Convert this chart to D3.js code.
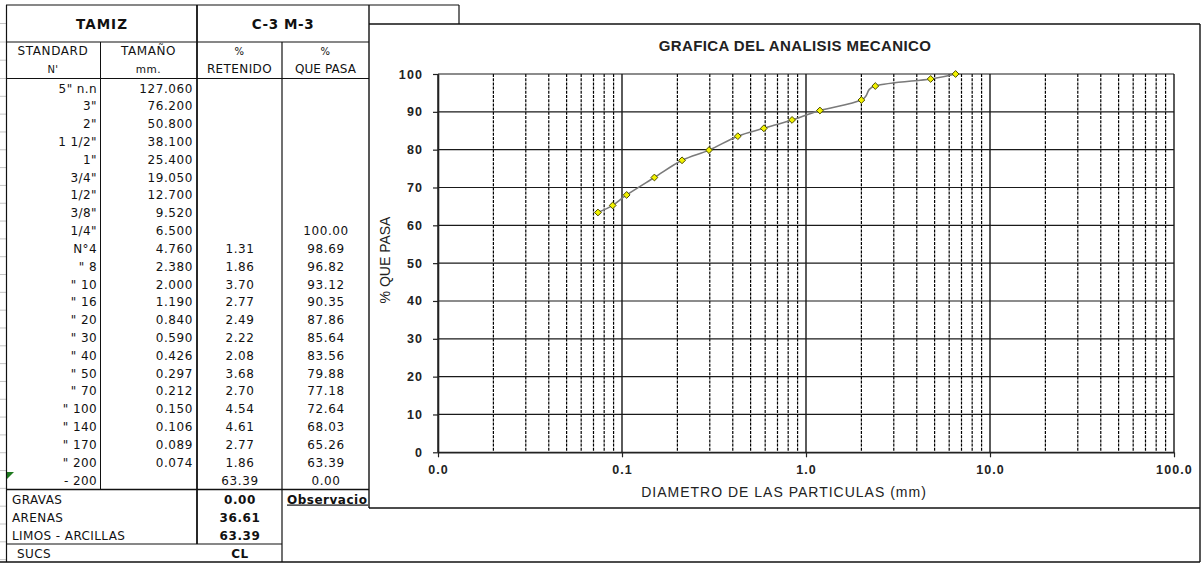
<!DOCTYPE html>
<html><head><meta charset="utf-8">
<script src="https://cdn.jsdelivr.net/npm/d3@7"></script>
<style>
html,body{margin:0;padding:0;background:#fff;}
svg{display:block;}
</style></head>
<body>
<svg id="c" width="1201" height="563"></svg>
<script>
// ---------- DATA ----------
const standard = ['5" n.n','3"','2"','1 1/2"','1"','3/4"','1/2"','3/8"','1/4"','N°4','" 8','" 10','" 16','" 20','" 30','" 40','" 50','" 70','" 100','" 140','" 170','" 200','- 200'];
const sizes = [127.060,76.200,50.800,38.100,25.400,19.050,12.700,9.520,6.500,4.760,2.380,2.000,1.190,0.840,0.590,0.426,0.297,0.212,0.150,0.106,0.089,0.074,null];
const retenido = [null,null,null,null,null,null,null,null,null,1.31,1.86,3.70,2.77,2.49,2.22,2.08,3.68,2.70,4.54,4.61,2.77,1.86,63.39];
const pasa = [null,null,null,null,null,null,null,null,100.00,98.69,96.82,93.12,90.35,87.86,85.64,83.56,79.88,77.18,72.64,68.03,65.26,63.39,0.00];
const summaryLabels = ['GRAVAS','ARENAS','LIMOS - ARCILLAS'];
const summaryValues = [0.00,36.61,63.39];
const sucs = 'CL';
const sample = 'C-3  M-3';
const xTickValues = [0.01,0.1,1,10,100];
const yTickValues = [0,10,20,30,40,50,60,70,80,90,100];
const chartTitle = 'GRAFICA DEL ANALISIS MECANICO';
const xTitle = 'DIAMETRO DE LAS PARTICULAS  (mm)';
const yTitle = '% QUE PASA';

// ---------- SETUP ----------
const svg = d3.select('#c');
const TF = '"DejaVu Sans", sans-serif';
const CF = '"Liberation Sans", Arial, sans-serif';
function ln(g,x1,y1,x2,y2,w,col){
  g.append('line').attr('x1',x1).attr('y1',y1).attr('x2',x2).attr('y2',y2)
   .attr('stroke',col||'#111').attr('stroke-width',w||1);
}
function tx(g,x,y,s,anchor,opts){
  opts=opts||{};
  const t=g.append('text').attr('x',x).attr('y',y).text(s)
    .attr('text-anchor',anchor||'start')
    .attr('font-family',opts.family||TF)
    .attr('font-size',opts.size||12)
    .attr('font-weight',opts.bold?'bold':'normal')
    .attr('letter-spacing',opts.ls!=null?opts.ls:0.5)
    .attr('fill',opts.fill||'#111');
  if(opts.underline) t.attr('text-decoration','underline');
  if(opts.clip) t.attr('clip-path',opts.clip);
  return t;
}

// ---------- TABLE ----------
const tb = svg.append('g');
const rowH = 17.82, row0 = 88;
const rowY = i => row0 + i*rowH;
const edge = [23.5,42,60.2];
for(let i=0;i<=27;i++) edge.push(78.5+i*rowH);
edge.forEach(e=>{ if(e<562) ln(tb,0,e,6,e,1,'#c4c4c4'); });

tx(tb,102,28.5,'TAMIZ','middle',{bold:true,size:13.5,ls:1});
tx(tb,283,28.5,sample,'middle',{bold:true,size:13.5,ls:0.6});
tx(tb,53,54.5,'STANDARD','middle',{ls:0.6});
tx(tb,53,73,"N'",'middle',{size:10});
tx(tb,148.5,54.5,'TAMAÑO','middle',{ls:0.6});
tx(tb,148.5,73,'mm.','middle',{size:10.5});
tx(tb,239.5,55,'%','middle',{size:10});
tx(tb,239.5,73,'RETENIDO','middle',{ls:0.4});
tx(tb,325.5,55,'%','middle',{size:10});
tx(tb,325.5,73,'QUE PASA','middle',{ls:0.1});

standard.forEach((s,i)=>{
  const yb = rowY(i)+4.5;
  tx(tb,97,yb,s,'end',{ls:0.4});
  if(sizes[i]!=null) tx(tb,193,yb,sizes[i].toFixed(3),'end',{ls:0.6});
  if(retenido[i]!=null) tx(tb,240,yb,retenido[i].toFixed(2),'middle',{ls:0.6});
  if(pasa[i]!=null) tx(tb,326,yb,pasa[i].toFixed(2),'middle',{ls:0.6});
});
tb.append('path').attr('d','M7,472 L14,472 L7,479 Z').attr('fill','#1f7a1f');

const sumY = [499,517,535];
summaryLabels.forEach((l,i)=>{
  tx(tb,12,sumY[i]+4.5,l,'start',{ls:0.4});
  tx(tb,240,sumY[i]+4.5,summaryValues[i].toFixed(2),'middle',{bold:true,ls:0.6});
});
tx(tb,17,557.5,'SUCS','start',{ls:0.4});
tx(tb,240,557.5,sucs,'middle',{bold:true,ls:0.6});
svg.append('clipPath').attr('id','obsclip').append('rect').attr('x',282).attr('y',489).attr('width',86).attr('height',20);
tx(tb,287,503.5,'Observaciones','start',{bold:true,underline:true,ls:0.5,clip:'url(#obsclip)'});

ln(tb,6,5,459,5,1.2);
ln(tb,459,5,459,24,1.2);
ln(tb,6,42,369,42,1.2);
ln(tb,6,78.5,369,78.5,1.2);
ln(tb,6,489.5,369,489.5,1.4);
ln(tb,6,544,282,544,1.2);
ln(tb,0,562,1200,562,1.4);
ln(tb,6.5,5,6.5,562,1.2);
ln(tb,100.5,42,100.5,489.5,1);
ln(tb,197,5,197,544,1.8);
ln(tb,282,42,282,562,1.2);
ln(tb,369,5,369,508,1.4);

// ---------- CHART ----------
const ch = svg.append('g');
ln(ch,369,24,1200,24,1.4);
ln(ch,1200,24,1200,562,1.4);
ln(ch,369,508,1200,508,1.4);

const x = d3.scaleLog().domain([0.01,100]).range([438,1174]);
const y = d3.scaleLinear().domain([0,100]).range([452.3,74]);

const minor=[], major=[];
[0.01,0.1,1,10].forEach(d=>{ for(let k=1;k<=9;k++){ (k===1?major:minor).push(d*k);} });
major.push(100);
ch.selectAll('line.minor').data(minor).join('line').attr('class','minor')
  .attr('x1',d=>x(d)).attr('x2',d=>x(d)).attr('y1',y(100)).attr('y2',y(0))
  .attr('stroke','#000').attr('stroke-width',1.2).attr('stroke-dasharray','3,1.2');
ch.selectAll('line.major').data(major).join('line').attr('class','major')
  .attr('x1',d=>x(d)).attr('x2',d=>x(d)).attr('y1',y(100)).attr('y2',y(0))
  .attr('stroke','#333').attr('stroke-width',1.6);
ch.selectAll('line.hg').data(yTickValues).join('line').attr('class','hg')
  .attr('x1',x(0.01)).attr('x2',x(100)).attr('y1',d=>y(d)).attr('y2',d=>y(d))
  .attr('stroke','#1a1a1a').attr('stroke-width',1.2);

const yAxis = ch.append('g').attr('transform',`translate(${x(0.01)},0)`)
  .call(d3.axisLeft(y).tickValues(yTickValues).tickSizeInner(5).tickSizeOuter(0).tickPadding(10).tickFormat(d3.format('d')));
const xAxis = ch.append('g').attr('transform',`translate(0,${y(0)})`)
  .call(d3.axisBottom(x).tickValues(xTickValues).tickSizeInner(5).tickSizeOuter(0).tickPadding(8).tickFormat(d3.format('.1f')));
[yAxis,xAxis].forEach(a=>{
  a.select('.domain').attr('stroke','#222').attr('stroke-width',1.6);
  a.selectAll('.tick line').attr('stroke','#222').attr('stroke-width',1.2);
  a.selectAll('.tick text').attr('font-family',CF).attr('font-size',12.5).attr('font-weight','bold')
   .attr('letter-spacing',1.1).attr('fill','#222');
});

tx(ch,795,50.5,chartTitle,'middle',{family:CF,bold:true,size:15,ls:0.4,fill:'#222'});
tx(ch,784,497,xTitle,'middle',{family:CF,size:14,ls:1,fill:'#222'});
ch.append('text').attr('transform','translate(390,260) rotate(-90)')
  .attr('text-anchor','middle').attr('font-family',CF).attr('font-size',14)
  .attr('fill','#222').text(yTitle);

const pts = sizes.map((s,i)=>({s,p:pasa[i]})).filter(d=>d.s!=null && d.p!=null).reverse();
ch.append('path').datum(pts)
  .attr('d',d3.line().x(d=>x(d.s)).y(d=>y(d.p)).curve(d3.curveCardinal.tension(0)))
  .attr('fill','none').attr('stroke','#7a7a7a').attr('stroke-width',1.6);
ch.selectAll('path.mk').data(pts).join('path').attr('class','mk')
  .attr('transform',d=>`translate(${x(d.s)},${y(d.p)})`)
  .attr('d','M0,-3.4 L3.4,0 L0,3.4 L-3.4,0 Z')
  .attr('fill','#f2f200').attr('stroke','#4d4d00').attr('stroke-width',1);
</script>
</body></html>
